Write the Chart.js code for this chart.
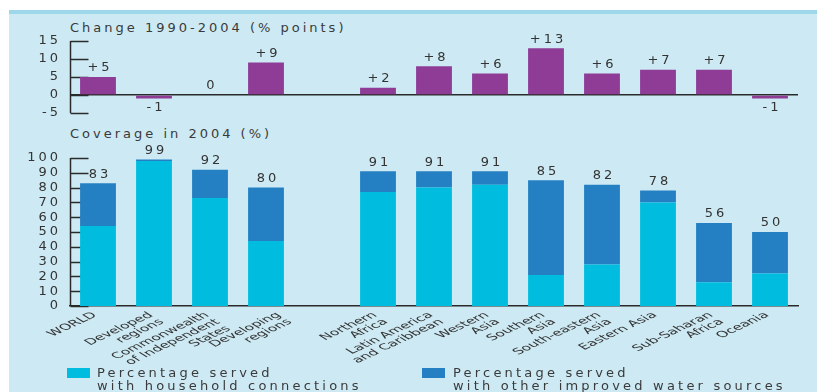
<!DOCTYPE html>
<html>
<head>
<meta charset="utf-8">
<script src="https://cdn.jsdelivr.net/npm/chart.js@4.4.1/dist/chart.umd.min.js"></script>
<style>
  html, body { margin: 0; padding: 0; background: #fff; }
  #wrap { position: relative; width: 817px; height: 392px; overflow: hidden; background: #fff;
          font-family: "DejaVu Sans", sans-serif; color: #3a3a3a; }
  #panel { position: absolute; left: 9px; top: 10px; right: 0; bottom: 0;
           background: #cdeaf4; border-top: 4px solid #9fd7ea; }
  canvas { position: absolute; left: 0; }
  #changeChart { top: 14px; }
  #coverageChart { top: 124px; }
  .title { position: absolute; left: 70px; font-size: 13px; line-height: 16px; letter-spacing: 3px; white-space: nowrap; }
  .swatch { position: absolute; top: 368px; width: 23px; height: 10px; }
  .legtext { position: absolute; top: 366px; font-size: 13px; line-height: 13px; letter-spacing: 3.2px; white-space: nowrap; }
</style>
</head>
<body>
<div id="wrap">
  <div id="panel"></div>
  <div class="title" style="top:20px">Change 1990-2004 (% points)</div>
  <div class="title" style="top:126px">Coverage in 2004 (%)</div>
  <canvas id="changeChart" width="817" height="119"></canvas>
  <canvas id="coverageChart" width="817" height="268"></canvas>
  <div class="swatch" style="left:67px; background:#00bde0"></div>
  <div class="legtext" style="left:97px">Percentage served<br>with household connections</div>
  <div class="swatch" style="left:422px; background:#2580c3"></div>
  <div class="legtext" style="left:453px">Percentage served<br>with other improved water sources</div>
</div>
<script>
// regions, with an empty slot separating the aggregates from the regional breakdown
const regions = [
  'WORLD', ['Developed', 'regions'], ['Commonwealth', 'of Independent', 'States'], ['Developing', 'regions'],
  '',
  ['Northern', 'Africa'], ['Latin America', 'and Caribbean'], ['Western', 'Asia'], ['Southern', 'Asia'],
  ['South-eastern', 'Asia'], 'Eastern Asia', ['Sub-Saharan', 'Africa'], 'Oceania'
];
// change in coverage 1990-2004, percentage points
const change = [5, -1, 0, 9, null, 2, 8, 6, 13, 6, 7, 7, -1];
// total coverage in 2004 (%)
const coverage = [83, 99, 92, 80, null, 91, 91, 91, 85, 82, 78, 56, 50];
// part of it served through household connections (%)
const household = [54, 98, 73, 44, null, 77, 80, 82, 21, 28, 70, 16, 22];
const changeTicks = [-5, 0, 5, 10, 15];
const coverageTicks = [0, 10, 20, 30, 40, 50, 60, 70, 80, 90, 100];

const otherSources = coverage.map((c, i) => c === null ? null : c - household[i]);

const textColor = '#333';
const axisColor = '#2a2a2a';
const font = '"DejaVu Sans", sans-serif';

// numbers on the charts are widely spaced
const spacing = {
  id: 'spacing',
  beforeDraw(chart) { chart.ctx.letterSpacing = '3px'; }
};

// y axis line plus short tick marks pointing into the plot, drawn under the bars
const innerTicks = {
  id: 'innerTicks',
  beforeDatasetsDraw(chart) {
    const y = chart.scales.y, area = chart.chartArea, ctx = chart.ctx;
    const left = Math.round(area.left) + 0.5;
    ctx.save();
    ctx.strokeStyle = axisColor;
    ctx.lineWidth = 1.5;
    ctx.beginPath();
    ctx.moveTo(left, area.top);
    ctx.lineTo(left, area.bottom);
    ctx.stroke();
    y.ticks.forEach(t => {
      const py = Math.round(y.getPixelForValue(t.value)) + 0.5;
      ctx.beginPath();
      ctx.moveTo(left, py);
      ctx.lineTo(left + 18, py);
      ctx.stroke();
    });
    ctx.restore();
  }
};

// value written above (or below, when negative) the top of each bar
const valueLabels = {
  id: 'valueLabels',
  afterDatasetsDraw(chart, args, opts) {
    const meta = chart.getDatasetMeta(chart.data.datasets.length - 1);
    const ctx = chart.ctx;
    ctx.save();
    ctx.letterSpacing = '3px';
    ctx.font = '13px ' + font;
    ctx.fillStyle = textColor;
    ctx.textAlign = 'center';
    ctx.textBaseline = 'middle';
    meta.data.forEach((bar, i) => {
      const v = opts.values[i];
      if (v === null || v === undefined) return;
      const y = v < 0 ? bar.y + 9 : bar.y - 9;
      ctx.fillText(opts.signed && v > 0 ? '+' + v : String(v), bar.x + 2, y);
    });
    ctx.restore();
  }
};

// category names, slanted and stretched sideways, right end at each tick;
// the developing-regions name sits a bit further right so it clears the CIS one
const slantedLabels = {
  id: 'slantedLabels',
  afterDraw(chart) {
    const x = chart.scales.x, ctx = chart.ctx;
    ctx.save();
    ctx.letterSpacing = '0px';
    ctx.font = '8.5px ' + font;
    ctx.fillStyle = textColor;
    ctx.textAlign = 'right';
    ctx.textBaseline = 'middle';
    chart.data.labels.forEach((label, i) => {
      const lines = [].concat(label);
      const nudge = lines[0] === 'Developing' ? 16 : 0;
      ctx.save();
      ctx.translate(x.getPixelForTick(i) - 3 + nudge, x.top + 8);
      ctx.scale(1.85, 1);
      ctx.rotate(-41 * Math.PI / 180);
      lines.forEach((line, j) => ctx.fillText(line, 0, j * 9));
      ctx.restore();
    });
    ctx.restore();
  }
};

function yAxis(ticksList) {
  return {
    min: ticksList[0],
    max: ticksList[ticksList.length - 1],
    afterFit: s => { s.width = 70; },
    afterBuildTicks: s => { s.ticks = ticksList.map(v => ({ value: v })); },
    border: { display: false },
    ticks: { autoSkip: false, color: textColor, font: { family: font, size: 13 }, padding: 9 }
  };
}

const changeY = yAxis(changeTicks);
changeY.grid = {
  drawTicks: false,
  color: c => c.tick && c.tick.value === 0 ? axisColor : 'rgba(0,0,0,0)',
  lineWidth: 1.5
};

new Chart(document.getElementById('changeChart'), {
  type: 'bar',
  data: {
    labels: regions,
    datasets: [{
      label: 'Change 1990-2004',
      data: change,
      backgroundColor: '#8e3c96',
      barPercentage: 0.64,
      categoryPercentage: 1
    }]
  },
  options: {
    responsive: false,
    animation: false,
    devicePixelRatio: 1,
    layout: { padding: { top: 27, bottom: 20, left: 0, right: 19 } },
    plugins: {
      legend: { display: false },
      tooltip: { enabled: false },
      valueLabels: { values: change, signed: true }
    },
    scales: {
      x: { display: false },
      y: changeY
    }
  },
  plugins: [spacing, innerTicks, valueLabels]
});

const coverageY = yAxis(coverageTicks);
coverageY.stacked = true;
coverageY.grid = { display: false, drawTicks: false };

new Chart(document.getElementById('coverageChart'), {
  type: 'bar',
  data: {
    labels: regions,
    datasets: [
      {
        label: 'Percentage served with household connections',
        data: household,
        backgroundColor: '#00bde0',
        barPercentage: 0.64,
        categoryPercentage: 1
      },
      {
        label: 'Percentage served with other improved water sources',
        data: otherSources,
        backgroundColor: '#2580c3',
        barPercentage: 0.64,
        categoryPercentage: 1
      }
    ]
  },
  options: {
    responsive: false,
    animation: false,
    devicePixelRatio: 1,
    layout: { padding: { top: 34, bottom: 0, left: 0, right: 19 } },
    plugins: {
      legend: { display: false },
      tooltip: { enabled: false },
      valueLabels: { values: coverage }
    },
    scales: {
      x: {
        stacked: true,
        afterFit: s => { s.height = 86; },
        grid: { display: false, drawTicks: false },
        border: { display: true, color: axisColor, width: 1.5 },
        ticks: { display: false }
      },
      y: coverageY
    }
  },
  plugins: [spacing, innerTicks, valueLabels, slantedLabels]
});
</script>
</body>
</html>
